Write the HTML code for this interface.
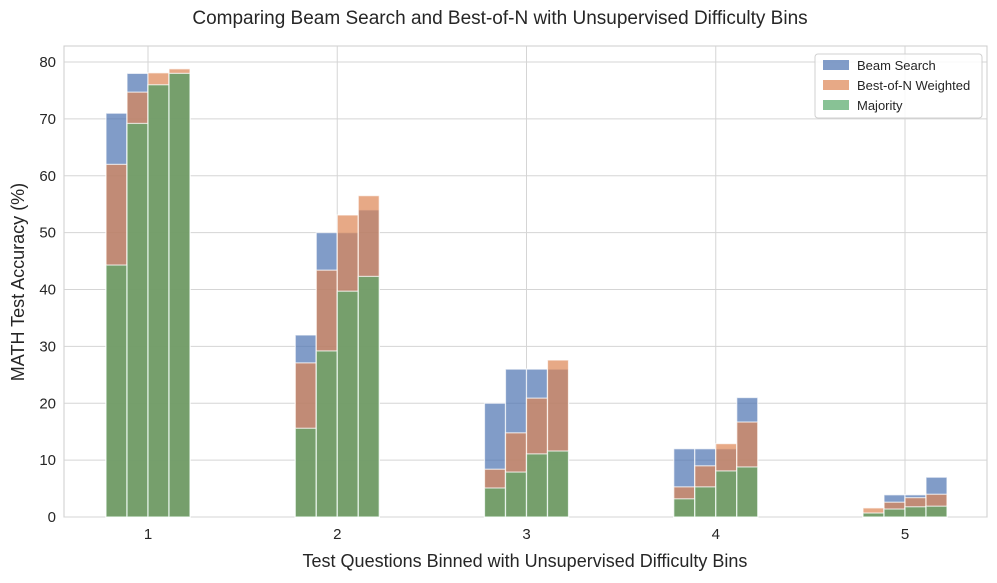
<!DOCTYPE html>
<html><head><meta charset="utf-8"><style>
body{margin:0;background:#fff;font-family:"Liberation Sans",sans-serif}
</style></head><body>
<svg id="chart" width="997" height="578" xmlns="http://www.w3.org/2000/svg" font-family="Liberation Sans, sans-serif"></svg>
<script>
const categories=["1","2","3","4","5"];
const yTicks=[0,10,20,30,40,50,60,70,80];
const beam=[[71,78,76,78],[32,50,50,54],[20,26,26,26],[12,12,12,21],[0.7,3.9,3.9,7]];
const bestN=[[62,74.7,78.1,78.8],[27.1,43.4,53.1,56.5],[8.4,14.8,20.9,27.6],[5.3,9,12.9,16.7],[1.6,2.6,3.4,4]];
const majority=[[44.3,69.2,76,78],[15.6,29.2,39.7,42.3],[5.1,7.9,11.1,11.6],[3.2,5.3,8.1,8.8],[0.7,1.4,1.8,1.9]];
const seriesNames=["Beam Search","Best-of-N Weighted","Majority"];
const colors=["#4c72b0","#dd8452","#55a868"];
const NS="http://www.w3.org/2000/svg";
const svg=document.getElementById('chart');
const L=64,R=987,T=46,B=517;
const y=v=>B-v*(517-62)/80;
const xc=i=>148+i*189.25;
const bw=21;
function mk(t,a,p){const e=document.createElementNS(NS,t);for(const k in a)e.setAttribute(k,a[k]);(p||svg).appendChild(e);return e;}
mk('rect',{x:L,y:T,width:R-L,height:B-T,fill:'#fff',stroke:'#cccccc','stroke-width':1});
yTicks.forEach(v=>{
 const g=mk('line',{x1:L,x2:R,y1:y(v),y2:y(v),stroke:'#d5d5d5','stroke-width':1});
 
 const t=mk('text',{x:L-8,y:y(v)+5,'text-anchor':'end','font-size':15,fill:'#262626'});t.textContent=v;
 
});
categories.forEach((c,i)=>{
 const g=mk('line',{x1:xc(i),x2:xc(i),y1:T,y2:B,stroke:'#d5d5d5','stroke-width':1});
 
 const t=mk('text',{x:xc(i),y:539,'text-anchor':'middle','font-size':15,fill:'#262626'});t.textContent=c;
 
});
[beam,bestN,majority].forEach((s,si)=>{
 s.forEach((vals,i)=>{vals.forEach((v,j)=>{
  const x0=xc(i)-2*bw+j*bw;
  const r=mk('rect',{x:x0,y:y(v),width:bw,height:B-y(v),fill:colors[si],'fill-opacity':0.7,stroke:'#fff','stroke-opacity':0.7,'stroke-width':1.2});
  
  
 });});
});
// legend
const lg=mk('g',{});
mk('rect',{x:815,y:54,width:167,height:64,rx:3,fill:'#fff','fill-opacity':0.85,stroke:'#d0d0d0'},lg);
seriesNames.forEach((n,k)=>{
 const e=mk('g',{},lg);
 mk('rect',{x:823,y:60+k*20,width:26,height:10,fill:colors[k],'fill-opacity':0.7},e);
 const t=mk('text',{x:857,y:70+k*20,'font-size':13,fill:'#262626'},e);t.textContent=n;
});
let t=mk('text',{x:500,y:24,'text-anchor':'middle','font-size':19,fill:'#262626'});t.textContent='Comparing Beam Search and Best-of-N with Unsupervised Difficulty Bins';

t=mk('text',{x:525,y:567,'text-anchor':'middle','font-size':18,fill:'#262626'});t.textContent='Test Questions Binned with Unsupervised Difficulty Bins';

t=mk('text',{x:24,y:282,'text-anchor':'middle','font-size':18,fill:'#262626',transform:'rotate(-90 24 282)'});t.textContent='MATH Test Accuracy (%)';

</script>
</body></html>
